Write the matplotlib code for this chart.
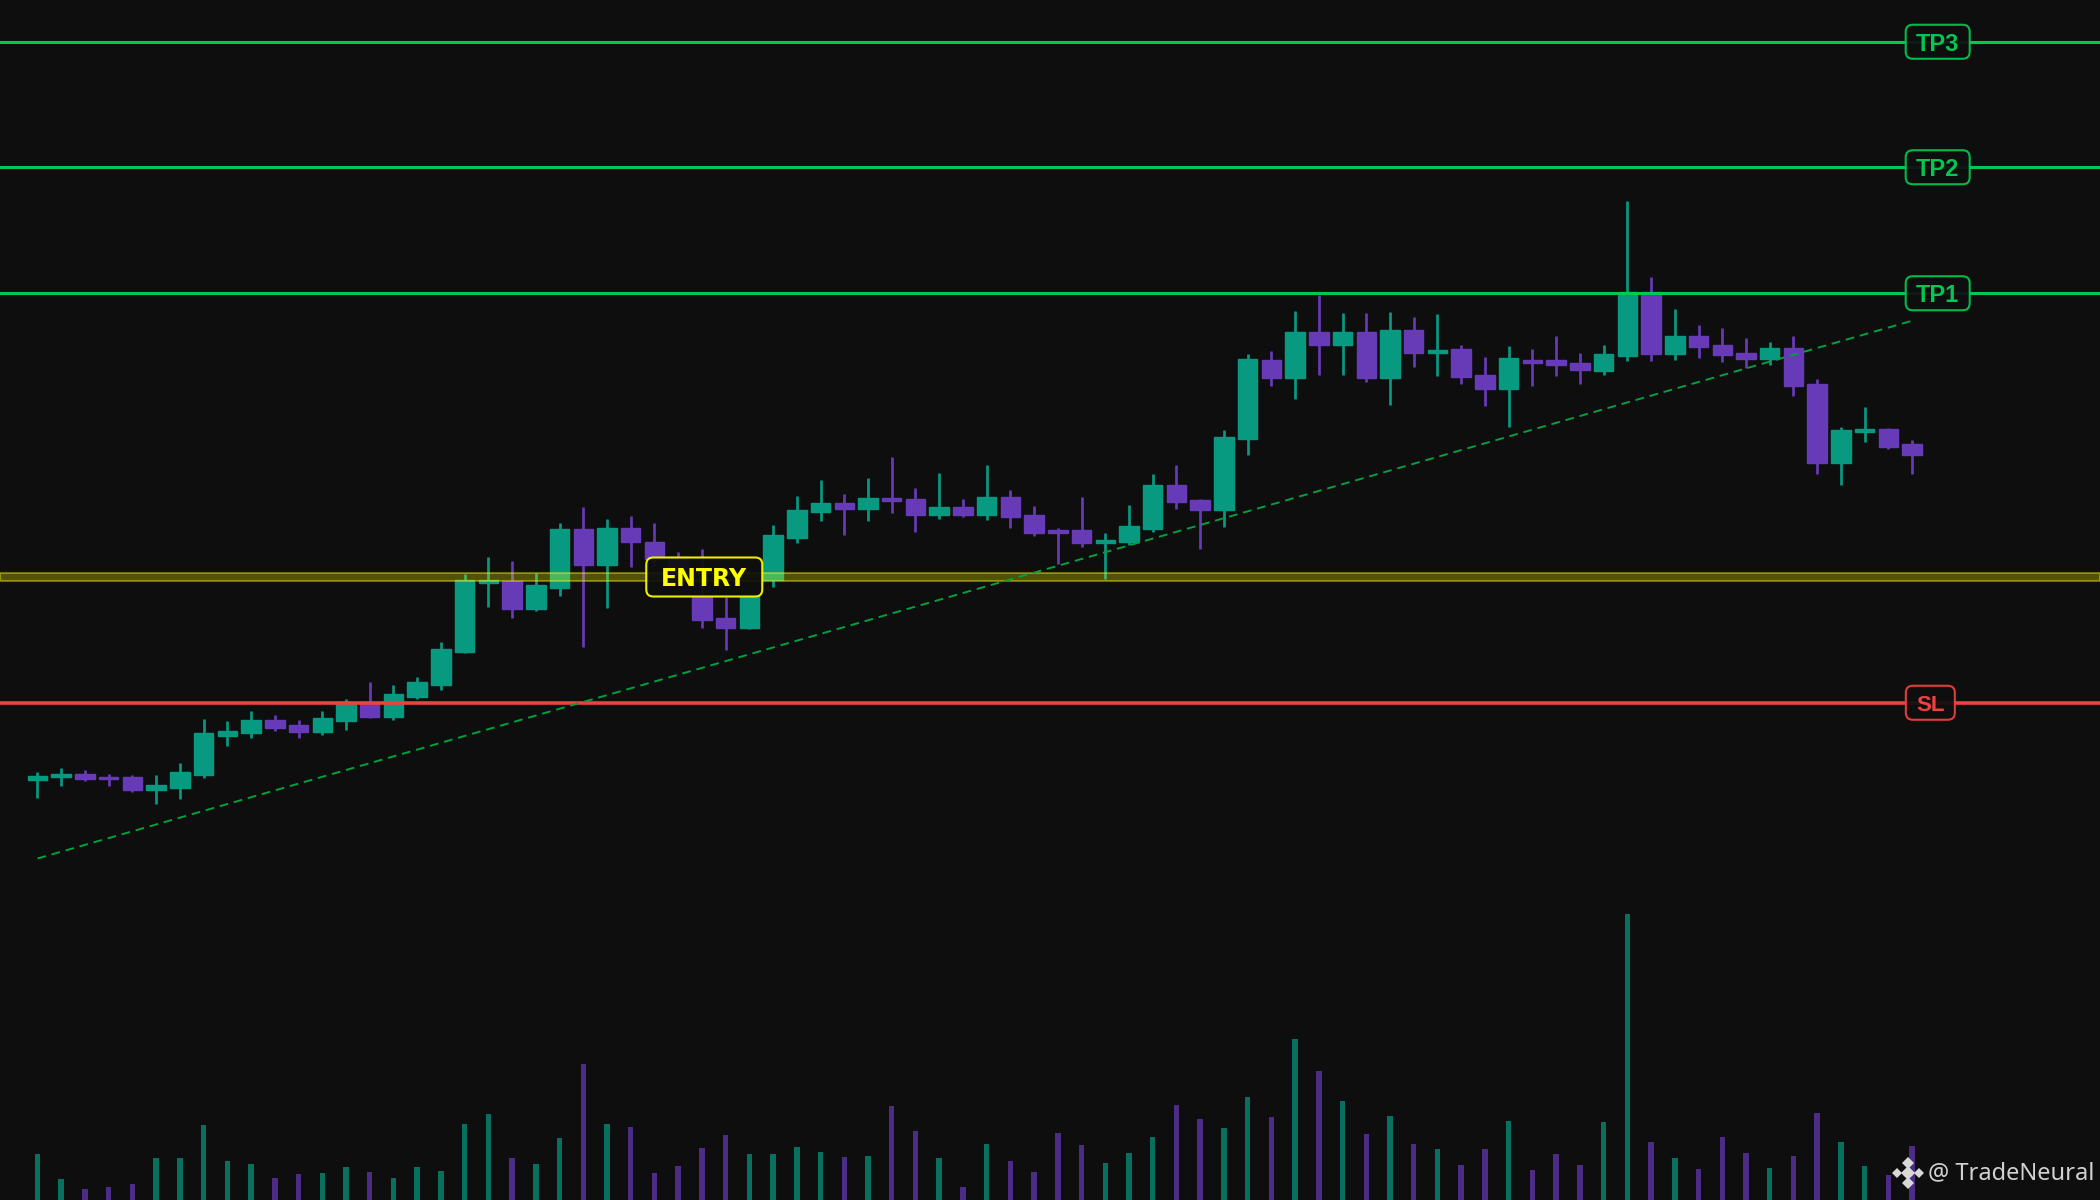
import numpy as np
import matplotlib.pyplot as plt
from matplotlib.patches import FancyBboxPatch
from matplotlib.lines import Line2D
from matplotlib.transforms import IdentityTransform

# candles (price)
opens = [1.8374, 1.8398, 1.8422, 1.8400, 1.8398, 1.8294, 1.8314, 1.8418, 1.8730, 1.8750,
         1.8854, 1.8814, 1.8758, 1.8850, 1.9000, 1.8882, 1.9042, 1.9138, 1.9402, 1.9950,
         1.9968, 1.9746, 1.9914, 2.0382, 2.0098, 2.0390, 2.0282, 2.0160, 1.9840, 1.9670,
         1.9590, 1.9976, 2.0314, 2.0518, 2.0590, 2.0542, 2.0630, 2.0622, 2.0498, 2.0558,
         2.0498, 2.0638, 2.0494, 2.0376, 2.0374, 2.0270, 2.0278, 2.0386, 2.0734, 2.0614,
         2.0534, 2.1102, 2.1734, 2.1590, 2.1958, 2.1854, 2.1958, 2.1590, 2.1974, 2.1790,
         2.1822, 2.1614, 2.1502, 2.1738, 2.1734, 2.1710, 2.1650, 2.1766, 2.2282, 2.1782,
         2.1926, 2.1854, 2.1790, 2.1742, 2.1830, 2.1542, 2.0910, 2.1158, 2.1182, 2.1062]
highs = [1.8438, 1.8470, 1.8456, 1.8424, 1.8416, 1.8416, 1.8512, 1.8864, 1.8848, 1.8928,
         1.8896, 1.8856, 1.8928, 1.9024, 1.9160, 1.9136, 1.9200, 1.9478, 2.0022, 2.0160,
         2.0128, 2.0032, 2.0432, 2.0560, 2.0464, 2.0488, 2.0432, 2.0202, 2.0224, 1.9840,
         1.9856, 2.0416, 2.0648, 2.0776, 2.0664, 2.0792, 2.0960, 2.0712, 2.0832, 2.0624,
         2.0896, 2.0696, 2.0568, 2.0392, 2.0640, 2.0352, 2.0576, 2.0824, 2.0896, 2.0624,
         2.1176, 2.1784, 2.1806, 2.2128, 2.2256, 2.2110, 2.2110, 2.2118, 2.2080, 2.2102,
         2.1856, 2.1760, 2.1848, 2.1822, 2.1928, 2.1792, 2.1856, 2.3008, 2.2400, 2.2144,
         2.2016, 2.1992, 2.1912, 2.1878, 2.1928, 2.1582, 2.1200, 2.1360, 2.1194, 2.1096]
lows = [1.8234, 1.8330, 1.8370, 1.8328, 1.8282, 1.8186, 1.8226, 1.8394, 1.8650, 1.8714,
        1.8770, 1.8714, 1.8738, 1.8776, 1.8876, 1.8856, 1.9024, 1.9096, 1.9394, 1.9762,
        1.9674, 1.9728, 1.9848, 1.9442, 1.9754, 2.0082, 2.0088, 1.9936, 1.9592, 1.9416,
        1.9584, 1.9922, 2.0274, 2.0450, 2.0338, 2.0450, 2.0514, 2.0362, 2.0466, 2.0482,
        2.0458, 2.0394, 2.0330, 2.0106, 2.0242, 1.9986, 2.0256, 2.0362, 2.0546, 2.0226,
        2.0402, 2.0974, 2.1530, 2.1426, 2.1618, 2.1618, 2.1558, 2.1378, 2.1682, 2.1610,
        2.1546, 2.1370, 2.1200, 2.1530, 2.1610, 2.1546, 2.1618, 2.1728, 2.1728, 2.1736,
        2.1754, 2.1722, 2.1674, 2.1698, 2.1450, 2.0826, 2.0738, 2.1082, 2.1026, 2.0826]
closes = [1.8410, 1.8422, 1.8382, 1.8382, 1.8294, 1.8334, 1.8438, 1.8750, 1.8766, 1.8854,
          1.8794, 1.8758, 1.8870, 1.9000, 1.8882, 1.9062, 1.9160, 1.9422, 1.9976, 1.9976,
          1.9746, 1.9934, 2.0382, 2.0098, 2.0390, 2.0278, 2.0142, 2.0016, 1.9656, 1.9590,
          1.9848, 2.0336, 2.0536, 2.0590, 2.0542, 2.0630, 2.0606, 2.0498, 2.0558, 2.0494,
          2.0638, 2.0482, 2.0354, 2.0354, 2.0270, 2.0294, 2.0406, 2.0734, 2.0598, 2.0534,
          2.1118, 2.1742, 2.1590, 2.1958, 2.1854, 2.1958, 2.1590, 2.1974, 2.1790, 2.1818,
          2.1598, 2.1502, 2.1750, 2.1714, 2.1694, 2.1658, 2.1782, 2.2282, 2.1782, 2.1926,
          2.1838, 2.1774, 2.1742, 2.1830, 2.1526, 2.0910, 2.1174, 2.1182, 2.1042, 2.0974]
volumes = [46, 21, 11, 13, 16, 42, 42, 75, 39, 36, 22, 26, 27, 33, 28, 22, 33, 29, 76, 86,
           42, 36, 62, 136, 76, 73, 27, 34, 52, 65, 46, 46, 53, 48, 43, 44, 94, 69, 42, 13,
           56, 39, 28, 67, 55, 37, 47, 63, 95, 81, 72, 103, 83, 161, 129, 99, 66, 84, 56, 51,
           35, 51, 79, 30, 46, 35, 78, 286, 58, 42, 31, 63, 47, 32, 44, 87, 58, 34, 25, 54]

# trade levels
entry = 2.000
stop_loss = 1.8994
take_profits = [2.2270, 2.3278, 2.4282]
tp_names = ['TP1', 'TP2', 'TP3']
trend_start = 1.7748
trend_end = 2.2050

BG = '#0e0e0e'
UP = '#089981'
DOWN = '#673ab7'
TP_COLOR = '#00c853'
SL_COLOR = '#f04040'

n = len(opens)
idx = np.arange(n)
o = np.array(opens); c = np.array(closes)
h = np.array(highs); l = np.array(lows)
up = c >= o
colors = np.where(up, UP, DOWN)

fig = plt.figure(figsize=(21, 12), dpi=100, facecolor=BG)
ax = fig.add_axes([0, 0, 1, 1], facecolor=BG)
ax.set_xlim(-1.58, 86.92)
ax.set_ylim(1.5016, 2.4616)
ax.axis('off')

# volume panel at the bottom
vax = fig.add_axes([0, 0, 1, 0.25])
vax.patch.set_alpha(0)
vax.bar(idx, volumes, width=0.23, color=colors, alpha=0.7, linewidth=0)
vax.set_xlim(ax.get_xlim())
vax.set_ylim(0, max(volumes) * 1.05)
vax.axis('off')

# candles
ax.vlines(idx, l, h, colors=colors, linewidth=1.95, zorder=2)
body_lo = np.minimum(o, c)
body_h = np.maximum(np.abs(c - o), 0.0022)
ax.bar(idx, body_h, bottom=body_lo - (body_h - np.abs(c - o)) / 2, width=0.82,
       color=colors, edgecolor=colors, linewidth=1, zorder=3)

# levels
for tp in take_profits:
    ax.axhline(tp, color=TP_COLOR, linewidth=2.2, zorder=4)
ax.axhline(stop_loss, color=SL_COLOR, linewidth=2.6, zorder=4)
ax.axhspan(entry - 0.0034, entry + 0.0034, facecolor=(1, 1, 0, 0.28),
           edgecolor=(1, 1, 0, 0.4), linewidth=1.5, zorder=4)

# trend line
ax.plot([0, n - 1], [trend_start, trend_end], color='#00a040', linewidth=1.4,
        dashes=(4.5, 3), zorder=5)


def tag(xc, level, w, hgt, text, color, family, size):
    px, py = ax.transData.transform((xc, level))
    box = FancyBboxPatch((px - w / 2, py - hgt / 2), w, hgt,
                         boxstyle='round,pad=0,rounding_size=7',
                         transform=IdentityTransform(), facecolor=BG, alpha=0.93,
                         edgecolor=color, linewidth=1.5, zorder=7)
    fig.add_artist(box)
    fig.text(px / fig.bbox.width, py / fig.bbox.height, text, color=color,
             fontsize=size, fontweight='bold', family=family,
             ha='center', va='center_baseline', zorder=8)


for tp, name in zip(take_profits, tp_names):
    tag(80.08, tp, 64, 34, name, TP_COLOR, 'Liberation Sans', 17)
tag(79.77, stop_loss, 49, 34, 'SL', SL_COLOR, 'Liberation Sans', 16)
tag(28.1, entry, 116, 39, 'ENTRY', '#ffff00', 'DejaVu Sans', 17)

# watermark
lx, ly = 1908 / 2100, 1 - 1173 / 1200
for dx, dy, ms in [(0, 0, 7), (-11, 0, 5), (11, 0, 5), (0, 10, 6), (0, -10, 6)]:
    fig.add_artist(Line2D([lx + dx / 2100], [ly + dy / 1200], marker='D', markersize=ms,
                          color='#d8d8d8', markeredgewidth=0, transform=fig.transFigure))
fig.text(1928 / 2100, ly, '@ TradeNeural', color='#d0d0d0', fontsize=17,
         family='Noto Sans', ha='left', va='center')

fig.savefig('out.png', dpi=100, facecolor=BG)
